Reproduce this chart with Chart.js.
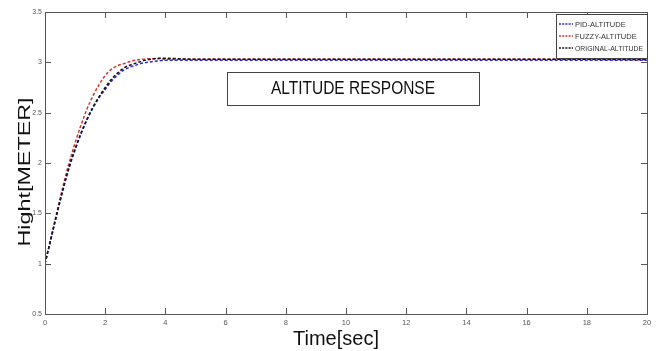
<!DOCTYPE html>
<html>
<head>
<meta charset="utf-8">
<script src="https://cdn.jsdelivr.net/npm/chart.js@4/dist/chart.umd.min.js"></script>
<style>
  html, body { margin: 0; padding: 0; background: #fff; }
  #wrap { width: 657px; height: 351px; }
</style>
</head>
<body>
<div id="wrap"><canvas id="chart" width="657" height="351"></canvas></div>
<script>
// sample times (s)
const timeSec = [0, 0.2, 0.4, 0.6, 0.8, 1.0, 1.2, 1.4, 1.6, 1.8, 2.0, 2.2, 2.4, 2.6, 2.8, 3.0,
  3.2, 3.4, 3.6, 3.8, 4.0, 4.5, 5, 6, 8, 10, 12, 14, 16, 18, 20];

const pidAltitude = [1.00, 1.25, 1.50, 1.74, 1.95, 2.13, 2.29, 2.43, 2.55, 2.65, 2.73, 2.81, 2.87, 2.92, 2.95, 2.97,
  2.99, 3.00, 3.01, 3.015, 3.02, 3.02, 3.02, 3.02, 3.02, 3.02, 3.02, 3.02, 3.02, 3.02, 3.02];
const fuzzyAltitude = [1.00, 1.26, 1.52, 1.77, 2.00, 2.20, 2.38, 2.54, 2.67, 2.78, 2.87, 2.93, 2.965, 2.985, 3.005, 3.02,
  3.03, 3.035, 3.035, 3.035, 3.03, 3.03, 3.03, 3.03, 3.03, 3.03, 3.03, 3.03, 3.03, 3.03, 3.025];
const originalAltitude = [1.00, 1.25, 1.50, 1.74, 1.96, 2.14, 2.30, 2.44, 2.56, 2.66, 2.75, 2.83, 2.89, 2.94, 2.97, 2.99,
  3.01, 3.025, 3.035, 3.04, 3.04, 3.035, 3.03, 3.03, 3.03, 3.03, 3.03, 3.03, 3.03, 3.03, 3.03];

const seriesLabels = ['PID-ALTITUDE', 'FUZZY-ALTITUDE', 'ORIGINAL-ALTITUDE'];
const xTicks = [0, 2, 4, 6, 8, 10, 12, 14, 16, 18, 20];
const yTicks = [0.5, 1, 1.5, 2, 2.5, 3, 3.5];

const FONT = '"Liberation Sans", Arial, sans-serif';
const AXIS = '#555';

const toPoints = (ys) => timeSec.map((t, i) => ({ x: t, y: ys[i] }));

function dashed(label, ys, color, order) {
  return {
    label,
    data: toPoints(ys),
    borderColor: color,
    borderWidth: 1.5,
    borderDash: [3, 2],
    pointRadius: 0,
    cubicInterpolationMode: 'monotone',
    fill: false,
    order,
  };
}

// MATLAB style frame, inward ticks, title box, legend box and axis titles
const decorations = {
  id: 'decorations',
  afterDraw(chart) {
    const { ctx, chartArea: a, scales } = chart;
    ctx.save();
    ctx.strokeStyle = AXIS;
    ctx.lineWidth = 1;
    ctx.strokeRect(a.left + 0.5, a.top + 0.5, a.right - a.left, a.bottom - a.top);

    ctx.beginPath();
    xTicks.slice(1, -1).forEach((v) => {
      const px = Math.round(scales.x.getPixelForValue(v)) + 0.5;
      ctx.moveTo(px, a.bottom); ctx.lineTo(px, a.bottom - 6);
      ctx.moveTo(px, a.top); ctx.lineTo(px, a.top + 6);
    });
    yTicks.slice(1, -1).forEach((v) => {
      const py = Math.round(scales.y.getPixelForValue(v)) + 0.5;
      ctx.moveTo(a.left, py); ctx.lineTo(a.left + 6, py);
      ctx.moveTo(a.right, py); ctx.lineTo(a.right - 6, py);
    });
    ctx.stroke();

    // title box
    ctx.fillStyle = '#fff';
    ctx.fillRect(227, 72, 252, 33);
    ctx.strokeStyle = '#444';
    ctx.strokeRect(227.5, 72.5, 252, 33);
    ctx.fillStyle = '#111';
    ctx.font = '18px ' + FONT;
    ctx.textAlign = 'center';
    ctx.textBaseline = 'middle';
    ctx.fillText('ALTITUDE RESPONSE', 353, 89, 164);

    // legend box
    ctx.fillStyle = '#fff';
    ctx.fillRect(556, 14, 91, 44);
    ctx.strokeStyle = '#444';
    ctx.strokeRect(556.5, 14.5, 91, 44);
    ctx.font = '7.5px ' + FONT;
    ctx.textAlign = 'left';
    const rows = [24, 36, 48];
    chart.data.datasets.forEach((ds, i) => {
      ctx.strokeStyle = ds.borderColor;
      ctx.lineWidth = 1.6;
      ctx.setLineDash([2, 1.2]);
      ctx.beginPath();
      ctx.moveTo(559, rows[i]);
      ctx.lineTo(573, rows[i]);
      ctx.stroke();
      ctx.setLineDash([]);
      ctx.fillStyle = '#333';
      ctx.fillText(ds.label, 575, rows[i] + 0.5, 68);
    });

    // axis titles
    ctx.fillStyle = '#111';
    ctx.textAlign = 'center';
    ctx.font = '20px ' + FONT;
    ctx.fillText('Time[sec]', 336, 339);

    // the source image stretches the rotated title along its length
    ctx.font = '16px ' + FONT;
    const w = ctx.measureText('Hight[METER]').width;
    ctx.translate(26, 172);
    ctx.rotate(-Math.PI / 2);
    ctx.scale(149 / w, 1);
    ctx.fillText('Hight[METER]', 0, 0);
    ctx.restore();
  },
};

new Chart(document.getElementById('chart'), {
  type: 'line',
  data: {
    datasets: [
      dashed(seriesLabels[0], pidAltitude, '#2a2ad0', 2),
      dashed(seriesLabels[1], fuzzyAltitude, '#d8342c', 3),
      dashed(seriesLabels[2], originalAltitude, '#111111', 1),
    ],
  },
  options: {
    responsive: false,
    animation: false,
    layout: { padding: { top: 12, right: 10, left: 0, bottom: 0 } },
    plugins: { legend: { display: false }, tooltip: { enabled: false } },
    scales: {
      x: {
        type: 'linear',
        min: 0,
        max: 20,
        afterBuildTicks: (s) => { s.ticks = xTicks.map((v) => ({ value: v })); },
        afterFit: (s) => { s.height = 37; },
        grid: { display: false, drawTicks: false },
        border: { display: false },
        ticks: {
          color: AXIS, font: { family: FONT, size: 7.5 }, padding: 4, maxRotation: 0,
          callback: (v) => String(v),
        },
      },
      y: {
        min: 0.5,
        max: 3.5,
        afterBuildTicks: (s) => { s.ticks = yTicks.map((v) => ({ value: v })); },
        afterFit: (s) => { s.width = 45; },
        grid: { display: false, drawTicks: false },
        border: { display: false },
        ticks: {
          color: AXIS, font: { family: FONT, size: 7 }, padding: 3,
          callback: (v) => String(v),
        },
      },
    },
  },
  plugins: [decorations],
});
</script>
</body>
</html>
